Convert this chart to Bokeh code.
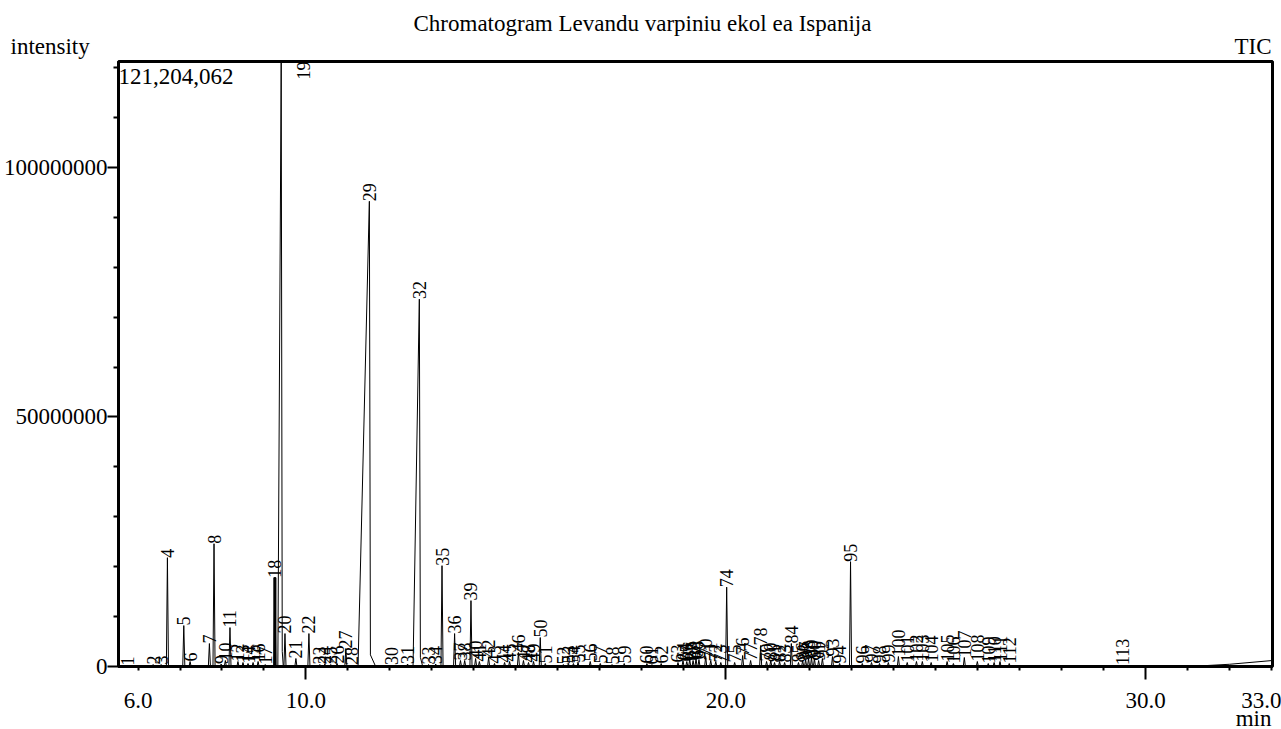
import numpy as np
from bokeh.plotting import figure
from bokeh.models import (Range1d, FixedTicker, Label, CustomJSTickFormatter,
                          ColumnDataSource, LinearAxis, Title)
from bokeh.core.properties import value
from bokeh.embed import file_html
from bokeh.resources import INLINE

# ---------------- data ----------------
chart_title = "Chromatogram Levandu varpiniu ekol ea Ispanija"
y_axis_name = "intensity"
trace_name = "TIC"
x_unit = "min"
max_intensity = 121204062
max_label = "121,204,062"
x_start, x_end = 5.535, 33.02

x_long_ticks = [10, 20, 30]
x_short_ticks = [6, 7, 8, 9, 11, 12, 13, 14, 15, 16, 17, 18, 19, 21, 22, 23, 24, 25, 26, 27, 28, 29, 31, 32, 33]
x_label_ticks = [6, 10, 20, 30, 33]
x_labels = ["6.0", "10.0", "20.0", "30.0", "33.0"]

y_major_ticks = [0, 50000000, 100000000]
y_major_labels = ["0", "50000000", "100000000"]
y_minor_ticks = [10000000, 20000000, 30000000, 40000000, 60000000, 70000000, 80000000, 90000000, 110000000, 120000000]

peak_id = list(range(1, 114))
peak_rt = [5.75, 6.36, 6.55, 6.70, 7.09, 7.24, 7.70, 7.81, 7.98, 8.08,
           8.19, 8.38, 8.50, 8.62, 8.74, 8.86, 9.03, 9.26, 9.41, 9.50,
           9.76, 10.07, 10.33, 10.45, 10.59, 10.74, 10.95, 11.09, 11.51, 12.04,
           12.42, 12.70, 12.92, 13.09, 13.24, 13.54, 13.68, 13.78, 13.93, 14.04,
           14.13, 14.35, 14.49, 14.73, 14.85, 15.06, 15.18, 15.30, 15.42, 15.58,
           15.70, 16.13, 16.25, 16.37, 16.48, 16.77, 17.01, 17.29, 17.58, 18.12,
           18.24, 18.46, 18.86, 18.98, 19.07, 19.14, 19.22, 19.29, 19.36, 19.52,
           19.64, 19.76, 19.88, 20.02, 20.21, 20.40, 20.59, 20.83, 20.97, 21.07,
           21.16, 21.28, 21.40, 21.56, 21.73, 21.83, 21.90, 21.97, 22.04, 22.11,
           22.21, 22.30, 22.54, 22.71, 22.97, 23.25, 23.47, 23.66, 23.87, 24.11,
           24.32, 24.54, 24.68, 24.89, 25.27, 25.42, 25.68, 25.99, 26.25, 26.39,
           26.53, 26.75, 29.45]
# heights in millions of counts
peak_height_m = [0.2, 0.4, 0.4, 21.8, 8.2, 1.0, 4.6, 24.6, 0.5, 1.2,
                 7.8, 1.0, 0.8, 0.6, 0.8, 1.0, 0.4, 17.8, 121.204062, 6.6,
                 1.6, 6.6, 0.4, 0.5, 0.4, 0.6, 3.6, 0.3, 93.2, 0.3,
                 0.5, 73.6, 0.4, 0.5, 20.2, 6.6, 1.2, 1.2, 13.2, 1.6,
                 1.0, 1.8, 0.6, 0.8, 1.0, 2.8, 1.2, 0.8, 1.0, 5.8,
                 0.6, 0.4, 0.6, 0.6, 0.8, 1.0, 0.6, 0.4, 0.6, 0.6,
                 0.4, 0.6, 0.8, 1.2, 1.0, 1.4, 1.2, 1.6, 1.4, 2.0,
                 1.2, 1.0, 0.8, 15.9, 0.8, 2.2, 1.2, 4.2, 1.0, 1.2,
                 0.8, 1.0, 0.8, 4.6, 0.8, 1.2, 1.4, 1.6, 1.8, 1.6,
                 1.2, 1.6, 2.0, 0.6, 21.0, 0.6, 0.8, 0.6, 0.8, 2.0,
                 0.8, 1.0, 1.0, 0.8, 1.0, 0.6, 1.8, 1.0, 0.6, 0.8,
                 1.0, 0.6, 0.3]
# peak shape (minutes): leading side width for fronted peaks, tail length
front_width = {19: 0.08, 29: 0.27, 32: 0.15}
tail_length = {19: 0.05, 29: 0.15, 32: 0.08}
default_half_width = 0.025
thick_peaks = [18]

drift_t = [31.05, 32.0, 33.02]
drift_i = [0, 450000, 1200000]

# ---------------- build trace ----------------
heights = [h * 1e6 for h in peak_height_m]
heights[peak_id.index(19)] = max_intensity

xs, ys = [x_start], [0.0]
for pid, rt, h in sorted(zip(peak_id, peak_rt, heights), key=lambda r: r[1]):
    wl = front_width.get(pid, default_half_width)
    xs += [rt - wl, rt]
    ys += [0.0, h]
    if pid in tail_length:
        xs += [rt + default_half_width, rt + tail_length[pid]]
        ys += [h * 0.025, 0.0]
    else:
        xs += [rt + default_half_width]
        ys += [0.0]
xs += drift_t
ys += drift_i

serif = "Liberation Serif"
big = "23px"
small = "18px"

FRAME_L, FRAME_R, FRAME_T, FRAME_B = 115, 1272, 61, 666
W, H = 1281, 729
TXT_H = 26  # approx. line box height of 23px text

p = figure(width=W, height=H, title=None,
           x_range=Range1d(x_start, x_end), y_range=Range1d(0, max_intensity),
           output_backend="svg", toolbar_location=None,
           min_border_left=FRAME_L, min_border_right=W - FRAME_R,
           min_border_top=FRAME_T, min_border_bottom=H - FRAME_B)
p.background_fill_color = "white"
p.border_fill_color = "white"
p.outline_line_color = "black"
p.outline_line_width = 3
p.xgrid.visible = False
p.ygrid.visible = False

p.line(xs, ys, line_color="black", line_width=1)

thick_src = ColumnDataSource(dict(
    x=[peak_rt[peak_id.index(k)] for k in thick_peaks],
    top=[heights[peak_id.index(k)] for k in thick_peaks]))
p.vbar(x="x", top="top", bottom=0, width=0.05, source=thick_src, color="black")

# peak labels
normal = [i for i in range(len(peak_id)) if heights[i] < max_intensity * 0.95]
over = [i for i in range(len(peak_id)) if heights[i] >= max_intensity * 0.95]
lab_src = ColumnDataSource(dict(x=[peak_rt[i] for i in normal], y=[heights[i] for i in normal],
                                text=[str(peak_id[i]) for i in normal]))
p.text(x="x", y="y", text="text", source=lab_src, angle=np.pi / 2,
       text_align="left", text_baseline="middle", text_font=value(serif),
       text_font_size=small, text_color="black")
over_src = ColumnDataSource(dict(x=[peak_rt[i] for i in over], y=[max_intensity for i in over],
                                 text=[str(peak_id[i]) for i in over]))
p.text(x="x", y="y", text="text", source=over_src, angle=np.pi / 2, x_offset=22,
       text_align="right", text_baseline="middle", text_font=value(serif),
       text_font_size=small, text_color="black")

def lookup_formatter(tick_values, tick_labels):
    return CustomJSTickFormatter(args=dict(tvals=tick_values, tlabs=tick_labels),
                                 code="const k = tvals.indexOf(tick); return k >= 0 ? tlabs[k] : '';")

# x axis: tick marks (nearest the frame)
xa = p.xaxis[0]
xa.ticker = FixedTicker(ticks=x_long_ticks, minor_ticks=x_short_ticks)
xa.formatter = CustomJSTickFormatter(code="return '';")
xa.axis_line_width = 3
xa.major_tick_line_width = 2
xa.minor_tick_line_width = 2
xa.major_tick_out = 13
xa.major_tick_in = 0
xa.minor_tick_out = 4
xa.minor_tick_in = 0
xa.major_label_standoff = 0
xa.major_label_text_font_size = "1px"

# x axis: labels
xb = LinearAxis(ticker=FixedTicker(ticks=x_label_ticks, minor_ticks=[]),
                formatter=lookup_formatter(x_label_ticks, x_labels))
xb.axis_line_color = None
xb.major_tick_line_color = None
xb.minor_tick_line_color = None
xb.major_tick_out = 0
xb.major_tick_in = 0
xb.minor_tick_out = 0
xb.minor_tick_in = 0
xb.major_label_standoff = 13
xb.major_label_text_font = serif
xb.major_label_text_font_size = big
xb.major_label_text_color = "black"
p.add_layout(xb, "below")

ya = p.yaxis[0]
ya.ticker = FixedTicker(ticks=y_major_ticks, minor_ticks=y_minor_ticks)
ya.formatter = lookup_formatter(y_major_ticks, y_major_labels)
ya.axis_line_width = 3
ya.major_tick_line_width = 2
ya.minor_tick_line_width = 2
ya.major_tick_out = 11
ya.major_tick_in = 0
ya.minor_tick_out = 5
ya.minor_tick_in = 0
ya.major_label_standoff = 0
ya.major_label_text_font = serif
ya.major_label_text_font_size = big
ya.major_label_text_color = "black"

def side_title(text, align, offset, valign, row_height):
    # a Title row of the wanted height (height = 2 + text height + standoff)
    return Title(text=text, align=align, offset=offset, vertical_align=valign,
                 standoff=row_height - 2 - TXT_H, text_font=serif, text_font_size=big,
                 text_font_style="normal", text_color="black")

# above the frame, stacked outward from the frame
SPACER = 16
p.add_layout(side_title(" ", "left", 0, "middle", SPACER), "above")
p.add_layout(side_title(y_axis_name, "left", 7 - FRAME_L, "middle", 0), "above")
p.add_layout(side_title(trace_name, "right", FRAME_R - 1271, "middle", 0), "above")
p.add_layout(side_title(chart_title, "left", 410 - FRAME_L, "top", FRAME_T - SPACER), "above")

# below the tick labels
p.add_layout(side_title(x_unit, "right", FRAME_R - 1271, "top", 18), "below")

p.add_layout(Label(x=0, y=FRAME_B - FRAME_T - 15, x_units="screen", y_units="screen",
                   text=max_label, text_align="left", text_baseline="middle",
                   text_font=serif, text_font_size=big, text_color="black"))

open("out.html", "w").write(file_html(p, INLINE))
